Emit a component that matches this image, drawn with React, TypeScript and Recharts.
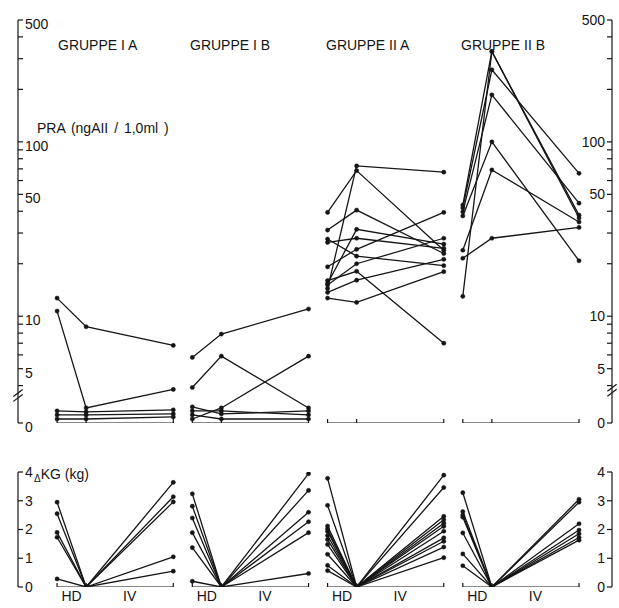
import React from 'react';
import { ComposedChart, Line, XAxis, YAxis, ReferenceLine } from 'recharts';

// ---------- labels ----------
const groupNames = ['GRUPPE I A', 'GRUPPE I B', 'GRUPPE II A', 'GRUPPE II B'];
const phaseNames = ['HD', 'IV'];
const praAxisTitle = 'PRA (ngAII / 1,0ml )';
const kgAxisTitle = 'KG (kg)';

// ---------- tick values ----------
const praTickValues = [0, 4, 5, 6, 7, 8, 9, 10, 20, 30, 40, 50, 60, 70, 80, 90, 100, 200, 300, 400, 500];
const praTickLabels = [0, 5, 10, 50, 100, 500];
const kgTickValues = [0, 1, 2, 3, 4];

// ---------- PRA (start HD, end HD, end IV) per patient ----------
const praIA = [
  [12.7, 8.7, 6.8],
  [10.7, 1.5, 3.8],
  [1.2, 1.1, 1.3],
  [0.8, 0.8, 0.9],
  [0.4, 0.4, 0.6],
];
const praIB = [
  [5.8, 7.9, 11.0],
  [3.9, 5.9, 1.5],
  [0.4, 1.5, 5.9],
  [1.6, 0.9, 1.2],
  [1.2, 1.2, 0.8],
  [0.8, 0.4, 0.4],
];
const praIIA = [
  [39.4, 68.4, 23.9],
  [14.4, 72.8, 67.0],
  [31.2, 40.6, 22.9],
  [15.4, 31.5, 25.9],
  [27.7, 22.1, 19.5],
  [26.5, 28.0, 24.5],
  [19.2, 24.2, 39.4],
  [16.0, 18.1, 7.0],
  [13.7, 16.1, 21.2],
  [12.7, 12.0, 18.0],
  [15.1, 20.0, 28.0],
];
const praIIB = [
  [43.4, 330, 38.0],
  [41.8, 259, 66.0],
  [39.7, 186, 44.5],
  [37.6, 100, 20.8],
  [23.9, 69, 34.7],
  [21.5, 28, 32.3],
  [13.0, 330, 36.6],
];

// ---------- ΔKG (start HD, end HD, end IV) per patient ----------
const kgIA = [
  [2.95, 0, 3.64],
  [2.55, 0, 3.14],
  [1.9, 0, 2.96],
  [1.73, 0, 1.05],
  [0.28, 0, 0.55],
];
const kgIB = [
  [3.24, 0, 3.94],
  [2.81, 0, 3.36],
  [2.4, 0, 2.6],
  [1.89, 0, 2.27],
  [1.37, 0, 1.89],
  [0.2, 0, 0.47],
];
const kgIIA = [
  [3.78, 0, 3.89],
  [2.84, 0, 3.46],
  [2.12, 0, 2.46],
  [2.02, 0, 2.34],
  [1.93, 0, 2.22],
  [1.79, 0, 2.11],
  [1.65, 0, 1.94],
  [1.48, 0, 1.71],
  [1.14, 0, 1.59],
  [0.75, 0, 1.39],
  [0.57, 0, 1.02],
];
const kgIIB = [
  [3.28, 0, 3.05],
  [2.62, 0, 2.95],
  [2.5, 0, 2.2],
  [2.43, 0, 1.98],
  [1.88, 0, 1.85],
  [1.15, 0, 1.72],
  [0.74, 0, 1.63],
];

const praGroups = [praIA, praIB, praIIA, praIIB];
const kgGroups = [kgIA, kgIB, kgIIA, kgIIB];

// ---------- time axis: HD phase length, IV phase length, gap between groups ----------
const HD_LEN = 1;
const IV_LEN = 3;
const GROUP_GAP = 0.655;
const X_MIN = -1.345;
const X_MAX = 19.1;
const groupX = (g: number) => {
  const s = g * (HD_LEN + IV_LEN + GROUP_GAP);
  return [s, s + HD_LEN, s + HD_LEN + IV_LEN];
};

// ---------- broken PRA axis: linear below the break, log above ----------
const LIN_TOP = 2.5;
const LOG_BOTTOM = 3.4;
const LIN_SPAN = 0.144;
const praT = (v: number) =>
  v <= LIN_TOP ? (v / LIN_TOP) * LIN_SPAN : LIN_SPAN + Math.log10(v / LOG_BOTTOM);

const INK = '#151515';
const FONT = '"Liberation Sans", Arial, sans-serif';

const fmtPra = (t: number) => {
  const raw = praTickValues.find((v) => Math.abs(praT(v) - t) < 1e-6);
  return raw !== undefined && praTickLabels.includes(raw) ? String(raw) : '';
};

const TickDot = (props: any) => {
  const { cx, cy, index } = props;
  if (cx == null || cy == null) return <g key={`t${index}`} />;
  return <line key={`t${index}`} x1={cx} x2={cx} y1={cy - 4} y2={cy + 4} stroke={INK} strokeWidth={1.2} />;
};

const dotStyle = { r: 2.1, fill: INK, stroke: INK, strokeWidth: 0.5 };

const tickStyle = { fill: INK, fontSize: 14, fontFamily: FONT };
const tickStyleLow = { fill: INK, fontSize: 14, fontFamily: FONT, dy: 4 };

export default function App() {
  const praSeries: { key: string; data: { x: number; y: number }[] }[] = [];
  praGroups.forEach((grp, g) => {
    const xs = groupX(g);
    grp.forEach((p, i) => {
      praSeries.push({ key: `p${g}-${i}`, data: p.map((v, k) => ({ x: xs[k], y: praT(v) })) });
    });
  });
  const kgSeries: { key: string; data: { x: number; y: number }[] }[] = [];
  kgGroups.forEach((grp, g) => {
    const xs = groupX(g);
    grp.forEach((p, i) => {
      kgSeries.push({ key: `k${g}-${i}`, data: p.map((v, k) => ({ x: xs[k], y: v })) });
    });
  });
  const baselines = groupNames.map((_, g) => groupX(g).map((x) => ({ x, y: 0 })));
  const phaseTicks: number[] = [];
  groupNames.forEach((_, g) => {
    const xs = groupX(g);
    phaseTicks.push((xs[0] + xs[1]) / 2, (xs[1] + xs[2]) / 2);
  });
  const fmtPhase = (v: number) => {
    const i = phaseTicks.findIndex((t) => Math.abs(t - v) < 1e-6);
    return i >= 0 ? phaseNames[i % 2] : '';
  };

  const bT = LIN_SPAN + 0.0;
  const brk = (dy: number) => [
    { x: X_MIN - 0.16, y: bT + dy - 0.02 },
    { x: X_MIN + 0.16, y: bT + dy + 0.02 },
  ];
  const brkR = (dy: number) => [
    { x: X_MAX - 0.16, y: bT + dy - 0.02 },
    { x: X_MAX + 0.16, y: bT + dy + 0.02 },
  ];

  const titleLeft = [58, 190, 326, 461];

  const axisCommon = {
    mirror: true,
    type: 'number' as const,
    interval: 0 as const,
    tickSize: 5,
    tickMargin: 2,
    axisLine: { stroke: INK, strokeWidth: 1.2 },
    tickLine: { stroke: INK, strokeWidth: 1.2 },
    allowDataOverflow: true,
  };

  return (
    <div style={{ position: 'absolute', left: 0, top: 0, width: 619, height: 608, background: '#fff', fontFamily: FONT, color: INK }}>
      <div style={{ position: 'absolute', left: 0, top: 0 }}>
        <ComposedChart width={619} height={440} margin={{ top: 20, right: 7, bottom: 17, left: 18 }}>
          <XAxis type="number" dataKey="x" domain={[X_MIN, X_MAX]} hide allowDataOverflow />
          <YAxis
            yAxisId="l"
            orientation="left"
            {...axisCommon}
            domain={[0, praT(500)]}
            ticks={praTickValues.map(praT)}
            tickFormatter={fmtPra}
            tick={tickStyleLow}
          />
          <YAxis
            yAxisId="r"
            orientation="right"
            {...axisCommon}
            domain={[0, praT(500)]}
            ticks={praTickValues.map(praT)}
            tickFormatter={fmtPra}
            tick={tickStyle}
          />
          {[0, 0.028].map((d, i) => (
            <ReferenceLine key={`bl${i}`} yAxisId="l" segment={brk(d)} stroke={INK} strokeWidth={1.2} ifOverflow="visible" />
          ))}
          {[0.03, 0.058].map((d, i) => (
            <ReferenceLine key={`br${i}`} yAxisId="l" segment={brkR(d)} stroke={INK} strokeWidth={1.2} ifOverflow="visible" />
          ))}
          {baselines.map((b, g) => (
            <Line
              key={`base${g}`}
              yAxisId="l"
              data={b}
              dataKey="y"
              stroke={INK}
              strokeWidth={1.2}
              dot={TickDot}
              activeDot={false}
              isAnimationActive={false}
            />
          ))}
          {praSeries.map((s) => (
            <Line
              key={s.key}
              yAxisId="l"
              data={s.data}
              dataKey="y"
              stroke={INK}
              strokeWidth={1.3}
              dot={dotStyle}
              activeDot={false}
              isAnimationActive={false}
            />
          ))}
        </ComposedChart>
      </div>

      <div style={{ position: 'absolute', left: 0, top: 440 }}>
        <ComposedChart width={619} height={168} margin={{ top: 32, right: 7, bottom: 0, left: 18 }}>
          <XAxis
            type="number"
            dataKey="x"
            domain={[X_MIN, X_MAX]}
            ticks={phaseTicks}
            interval={0}
            tickFormatter={fmtPhase}
            axisLine={false}
            tickLine={false}
            tickSize={0}
            tickMargin={4}
            height={21}
            tick={tickStyle}
            allowDataOverflow
          />
          <YAxis yAxisId="l" orientation="left" {...axisCommon} domain={[0, 4]} ticks={kgTickValues} tick={tickStyle} />
          <YAxis yAxisId="r" orientation="right" {...axisCommon} domain={[0, 4]} ticks={kgTickValues} tick={tickStyle} />
          {baselines.map((b, g) => (
            <Line
              key={`kbase${g}`}
              yAxisId="l"
              data={b}
              dataKey="y"
              stroke={INK}
              strokeWidth={1.2}
              dot={TickDot}
              activeDot={false}
              isAnimationActive={false}
            />
          ))}
          {kgSeries.map((s) => (
            <Line
              key={s.key}
              yAxisId="l"
              data={s.data}
              dataKey="y"
              stroke={INK}
              strokeWidth={1.3}
              dot={dotStyle}
              activeDot={false}
              isAnimationActive={false}
            />
          ))}
        </ComposedChart>
      </div>

      {groupNames.map((n, g) => (
        <div key={n} style={{ position: 'absolute', left: titleLeft[g], top: 37, fontSize: 14, whiteSpace: 'nowrap', lineHeight: '16px' }}>
          {n}
        </div>
      ))}
      <div style={{ position: 'absolute', left: 37, top: 121, fontSize: 14, wordSpacing: 2, whiteSpace: 'nowrap', lineHeight: '15px' }}>
        {praAxisTitle}
      </div>
      <div style={{ position: 'absolute', left: 34, top: 466, fontSize: 14, whiteSpace: 'nowrap', lineHeight: '16px' }}>
        <span style={{ fontSize: 10, position: 'relative', top: 3 }}>Δ</span>
        {kgAxisTitle}
      </div>
    </div>
  );
}
